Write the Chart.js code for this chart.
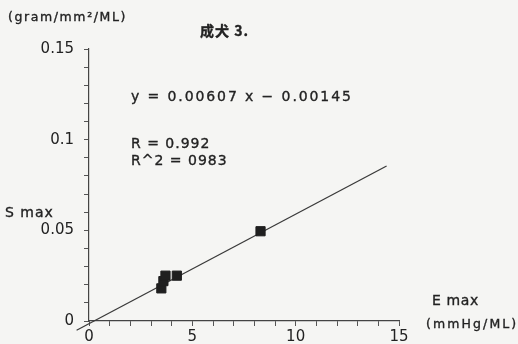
<!DOCTYPE html>
<html>
<head>
<meta charset="utf-8">
<script src="https://cdn.jsdelivr.net/npm/chart.js@4/dist/chart.umd.min.js"></script>
<style>
  html, body { margin: 0; padding: 0; background: #f5f5f3; }
  #chart { display: block; }
</style>
</head>
<body>
<canvas id="chart" width="518" height="344"></canvas>
<script>
// --- DATA ---
const eMax = [3.5, 3.6, 3.7, 4.25, 8.3];
const sMax = [0.018, 0.022, 0.025, 0.025, 0.0495];

// fitted line end points: y = 0.00607 x - 0.00145
const fitX = [-0.6, 14.4];
const fitY = [-0.0051, 0.0855];

const xTickLabels = [0, 5, 10, 15];
const yTickLabels = [0, 0.05, 0.1, 0.15];

const ink = '#222';
const font = 'DejaVu Sans, sans-serif';

// --- TEXT LABELS ---
const notes = [
    { text: '(gram/mm\u00b2/ML)', x: 8, y: 18, size: 12.5, spacing: 1.6 },
    { text: '成犬 3.', x: 200, y: 31, size: 14, spacing: 1, cjk: true },
    { text: 'y = 0.00607 x \u2212 0.00145', x: 131, y: 97, size: 14, spacing: 1.9 },
    { text: 'R = 0.992', x: 131, y: 144, size: 14, spacing: 1 },
    { text: 'R^2 = 0983', x: 131, y: 161, size: 14, spacing: 1 },
    { text: 'S max', x: 5, y: 213, size: 14, spacing: 1 },
    { text: 'E max', x: 432, y: 301, size: 14, spacing: 0.6 },
    { text: '(mmHg/ML)', x: 426, y: 325, size: 12.5, spacing: 2.1 },
];

const notesPlugin = {
    id: 'notes',
    afterDraw(chart) {
        const ctx = chart.ctx;
        ctx.save();
        ctx.fillStyle = ink;
        ctx.strokeStyle = ink;
        ctx.lineWidth = 0.35;
        ctx.textBaseline = 'middle';
        ctx.textAlign = 'left';
        notes.forEach(n => {
            ctx.font = (n.cjk ? 'bold ' : '') + n.size + 'px ' + (n.cjk ? '"Noto Sans CJK JP", ' : '') + font;
            ctx.letterSpacing = n.spacing + 'px';
            ctx.fillText(n.text, n.x, n.y);
            ctx.strokeText(n.text, n.x, n.y);
        });
        ctx.restore();
    }
};

new Chart(document.getElementById('chart'), {
    type: 'scatter',
    data: {
        datasets: [
            {
                data: eMax.map((x, i) => ({ x: x, y: sMax[i] })),
                pointStyle: 'rect',
                pointRadius: 6.5,
                backgroundColor: '#1f1f1f',
                borderColor: '#1f1f1f',
                borderWidth: 1,
            },
            {
                type: 'line',
                data: fitX.map((x, i) => ({ x: x, y: fitY[i] })),
                borderColor: '#3a3a3a',
                borderWidth: 1.3,
                pointRadius: 0,
                clip: false,
            }
        ]
    },
    options: {
        responsive: false,
        animation: false,
        layout: { padding: { left: 0, top: 49, right: 119, bottom: 0 } },
        plugins: { legend: { display: false }, tooltip: { enabled: false } },
        scales: {
            x: {
                type: 'linear',
                min: 0,
                max: 15,
                afterFit: s => { s.height = 23; },
                border: { color: '#444', width: 1.2 },
                grid: { drawOnChartArea: false, tickLength: 5, tickColor: '#555' },
                ticks: {
                    stepSize: 1,
                    autoSkip: false,
                    maxRotation: 0,
                    padding: 2,
                    color: ink,
                    font: { family: font, size: 15 },
                    callback: v => xTickLabels.includes(v) ? String(v) : ''
                }
            },
            y: {
                min: 0,
                max: 0.15,
                afterFit: s => { s.width = 89; },
                border: { color: '#444', width: 1.2 },
                grid: { drawOnChartArea: false, tickLength: 5, tickColor: '#555' },
                ticks: {
                    stepSize: 0.01,
                    autoSkip: false,
                    padding: 10,
                    color: ink,
                    font: { family: font, size: 15 },
                    callback: v => {
                        const r = Math.round(v * 100) / 100;
                        return yTickLabels.includes(r) ? String(r) : '';
                    }
                }
            }
        }
    },
    plugins: [notesPlugin]
});
</script>
</body>
</html>
